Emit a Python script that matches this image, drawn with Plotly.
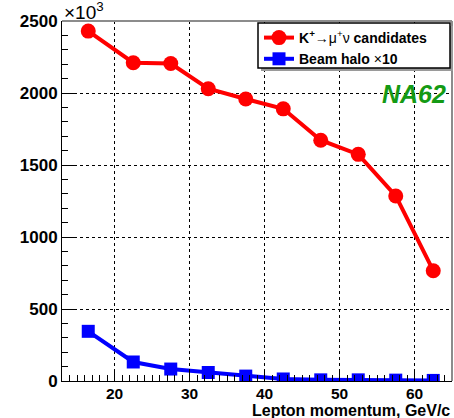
import plotly.graph_objects as go

# Lepton momentum bin centres (GeV/c)
momentum = [16.5, 22.5, 27.5, 32.5, 37.5, 42.5, 47.5, 52.5, 57.5, 62.5]
# K+ -> mu+ nu candidates (x10^3)
kmu_candidates = [2430, 2210, 2205, 2030, 1958, 1890, 1672, 1574, 1285, 766]
# Beam halo contribution, scaled x10 (x10^3)
beam_halo = [345, 132, 83, 59, 34, 14, 8, 8, 6, 4]

x_ticks = [20, 30, 40, 50, 60]
y_ticks = [0, 500, 1000, 1500, 2000, 2500]

FONT = "Liberation Sans"
W, H = 454, 418
M = dict(l=62, r=2, t=21, b=37)

fig = go.Figure()
fig.add_trace(go.Scatter(
    x=momentum, y=kmu_candidates, mode="lines+markers",
    name="<b>K<sup>+</sup></b>→μ<sup>+</sup>ν<b> candidates</b>",
    line=dict(color="#ff0000", width=4),
    marker=dict(symbol="circle", size=15, color="#ff0000"),
))
fig.add_trace(go.Scatter(
    x=momentum, y=beam_halo, mode="lines+markers",
    name="<b>Beam halo </b>×<b>10</b>",
    line=dict(color="#0000ff", width=4),
    marker=dict(symbol="square", size=13, color="#0000ff"),
))

axis_common = dict(
    showline=True, linecolor="black", linewidth=1, mirror=False,
    ticks="inside", ticklen=12, tickcolor="black", tickwidth=1,
    showgrid=True, gridcolor="black", gridwidth=1, griddash="3px,3px",
    zeroline=False,
)

fig.update_xaxes(
    range=[13, 65], tickvals=x_ticks,
    tickfont=dict(family=FONT, size=15.5, color="black", weight="bold"),
    ticklabelstandoff=-2,
    minor=dict(dtick=1, ticks="inside", ticklen=6, tickcolor="black", showgrid=False),
    **axis_common,
)
fig.update_yaxes(
    range=[0, 2500], tickvals=y_ticks,
    tickfont=dict(family=FONT, size=17, color="black", weight="bold"),
    minor=dict(dtick=100, ticks="inside", ticklen=6, tickcolor="black", showgrid=False),
    **axis_common,
)

pw = W - M["l"] - M["r"]
ph = H - M["t"] - M["b"]

def px_x(p):
    return (p - M["l"]) / pw

def px_y(p):
    return (H - M["b"] - p) / ph

shapes = [
    # grey upper and right frame edges
    dict(type="line", xref="paper", yref="paper", x0=0, x1=1, y0=1, y1=1,
         line=dict(color="#8c8c8c", width=2)),
    dict(type="line", xref="paper", yref="paper", x0=1, x1=1, y0=0, y1=1,
         line=dict(color="#8c8c8c", width=2)),
    # legend box with drop shadow
    dict(type="rect", xref="paper", yref="paper", layer="above",
         x0=px_x(261), x1=px_x(453), y0=px_y(71), y1=px_y(26),
         fillcolor="#9a9a9a", line=dict(width=0)),
    dict(type="rect", xref="paper", yref="paper", layer="above",
         x0=px_x(258), x1=px_x(450), y0=px_y(68), y1=px_y(23),
         fillcolor="white", line=dict(color="black", width=1.5)),
]

annotations = [
    dict(text="Lepton momentum, GeV/c", xref="paper", yref="paper",
         x=1, y=px_y(410.5), xanchor="right", yanchor="middle", showarrow=False,
         font=dict(family=FONT, size=16, color="black", weight="bold")),
    dict(text="×10<sup>3</sup>", xref="paper", yref="paper",
         x=0, y=px_y(11), xanchor="left", yanchor="middle", showarrow=False,
         font=dict(family=FONT, size=19, color="black")),
    dict(text="<i>NA62</i>", xref="paper", yref="paper",
         x=px_x(448), y=px_y(94), xanchor="right", yanchor="middle", showarrow=False,
         font=dict(family=FONT, size=25, color="#149a14", weight="bold")),
]

fig.update_layout(
    width=W, height=H, margin=M,
    paper_bgcolor="white", plot_bgcolor="white",
    shapes=shapes, annotations=annotations,
    showlegend=True,
    legend=dict(
        x=px_x(259), y=px_y(22), xanchor="left", yanchor="top",
        bgcolor="rgba(0,0,0,0)", borderwidth=0,
        font=dict(family=FONT, size=14, color="black"),
        tracegroupgap=4,
    ),
)

fig.write_html("out.html")
